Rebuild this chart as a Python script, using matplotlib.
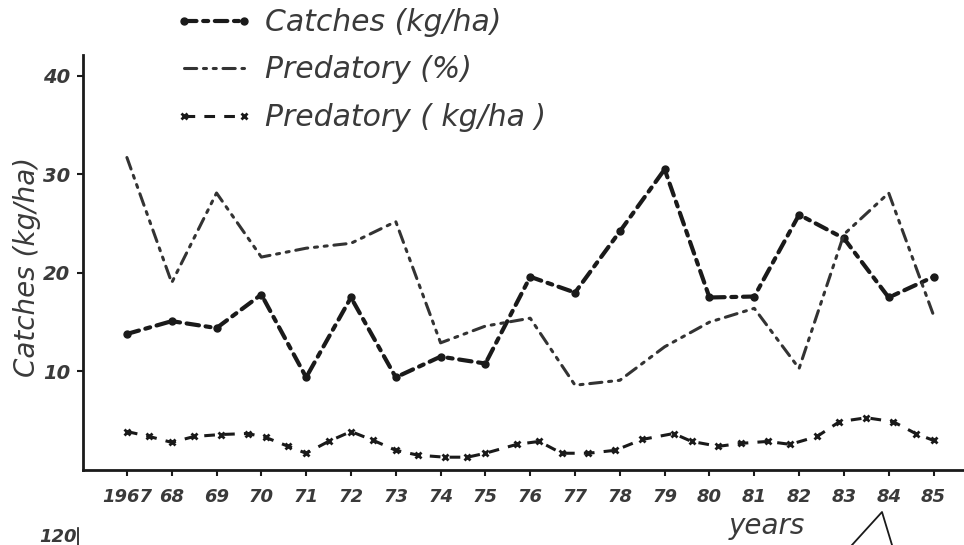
import matplotlib
matplotlib.use("Agg")
import matplotlib.pyplot as plt
from matplotlib.lines import Line2D

# ---- data ----
years = list(range(1967, 1986))
year_labels = ["1967", "68", "69", "70", "71", "72", "73", "74", "75", "76",
               "77", "78", "79", "80", "81", "82", "83", "84", "85"]
catches = [13.8, 15.1, 14.4, 17.8, 9.4, 17.5, 9.4, 11.5, 10.8, 19.6,
           18.0, 24.2, 30.5, 17.5, 17.6, 25.9, 23.5, 17.5, 19.6]
pred_pct = [31.7, 19.0, 28.1, 21.6, 22.5, 23.0, 25.2, 12.9, 14.6, 15.4,
            8.6, 9.1, 12.5, 15.0, 16.4, 10.3, 23.9, 28.1, 15.7]
pred_kg_years = [1967.0, 1967.5, 1968.0, 1968.5, 1969.1, 1969.7, 1970.1, 1970.6,
                 1971.0, 1971.5, 1972.0, 1972.5, 1973.0, 1973.5, 1974.1, 1974.6,
                 1975.0, 1975.7, 1976.2, 1976.7, 1977.3, 1977.9, 1978.5, 1979.2,
                 1979.6, 1980.2, 1980.7, 1981.3, 1981.8, 1982.4, 1982.9, 1983.5,
                 1984.1, 1984.6, 1985.0]
pred_kg = [3.9, 3.4, 2.8, 3.4, 3.6, 3.7, 3.3, 2.4, 1.7, 2.9, 3.9, 3.0, 2.0, 1.5,
           1.3, 1.3, 1.7, 2.6, 2.9, 1.7, 1.7, 2.0, 3.1, 3.7, 2.9, 2.4, 2.7, 2.9,
           2.6, 3.4, 4.9, 5.3, 4.9, 3.7, 3.0]
y_ticks = [10, 20, 30, 40]
labels = ["Catches (kg/ha)", "Predatory (%)", "Predatory ( kg/ha )"]

ink = "#1a1a1a"
text_col = "#3a3a3a"

fig = plt.figure(figsize=(9.64, 5.45), dpi=100)
ax = fig.add_axes([83 / 964, 75 / 545, 1 - 83 / 964, 415 / 545])

l1, = ax.plot(years, catches, color=ink, lw=3.0,
              linestyle=(0, (3, 1.6, 1.2, 1.6)), dash_capstyle="round",
              marker="o", markersize=5, markerfacecolor=ink, markeredgecolor=ink,
              label=labels[0])
l2, = ax.plot(years, pred_pct, color="#333333", lw=2.2,
              linestyle=(0, (4, 2.2, 1, 2.2, 1, 2.2)), dash_capstyle="round",
              label=labels[1])
l3, = ax.plot(pred_kg_years, pred_kg, color=ink, lw=2.2,
              linestyle=(0, (3.5, 3.0)), marker="x", markersize=5,
              markeredgewidth=2, label=labels[2])

ax.set_xlim(1966.02, 1985.68)
ax.set_ylim(0, 42.1)

for s in ["top", "right"]:
    ax.spines[s].set_visible(False)
for s in ["left", "bottom"]:
    ax.spines[s].set_linewidth(2.0)
    ax.spines[s].set_color(ink)

ax.set_xticks(years)
ax.set_xticklabels(year_labels)
ax.set_yticks(y_ticks)
ax.set_yticklabels([str(v) for v in y_ticks])
ax.tick_params(axis="x", length=4, width=1.5, pad=9, colors=ink,
               labelcolor=text_col, labelsize=13)
ax.tick_params(axis="y", length=4, width=1.5, pad=5, colors=ink,
               labelcolor=text_col, labelsize=14)
for t in ax.get_xticklabels() + ax.get_yticklabels():
    t.set_fontstyle("italic")
    t.set_fontweight("bold")

ax.set_ylabel("Catches (kg/ha)", fontsize=20, fontstyle="italic", color=text_col)
ax.yaxis.set_label_coords(-0.048, 0.49)
ax.set_xlabel("years", fontsize=20, fontstyle="italic", color=text_col)
ax.xaxis.set_label_coords(0.776, -0.1)

leg = fig.legend(handles=[l1, l2, l3], loc="upper left",
                 bbox_to_anchor=(172 / 964, 1 - 5 / 545), frameon=False,
                 prop={"size": 21.5, "style": "italic"}, handlelength=2.6,
                 handletextpad=0.4, labelspacing=0.62, numpoints=2,
                 borderaxespad=0, borderpad=0.1)
for t in leg.get_texts():
    t.set_color(text_col)

# fragments of the next figure visible on the scanned page
fig.text(58 / 964, 1 - 537 / 545, "120", fontsize=13, fontstyle="italic",
         fontweight="bold", color=text_col, ha="center", va="center")
fig.add_artist(Line2D([78 / 964, 78 / 964], [0, 17 / 545], color=ink, lw=1.2))
fig.add_artist(Line2D([852 / 964, 882 / 964, 892 / 964],
                      [0, 33 / 545, 0], color=ink, lw=1.3))

fig.savefig("out.png", dpi=100, facecolor="white")
